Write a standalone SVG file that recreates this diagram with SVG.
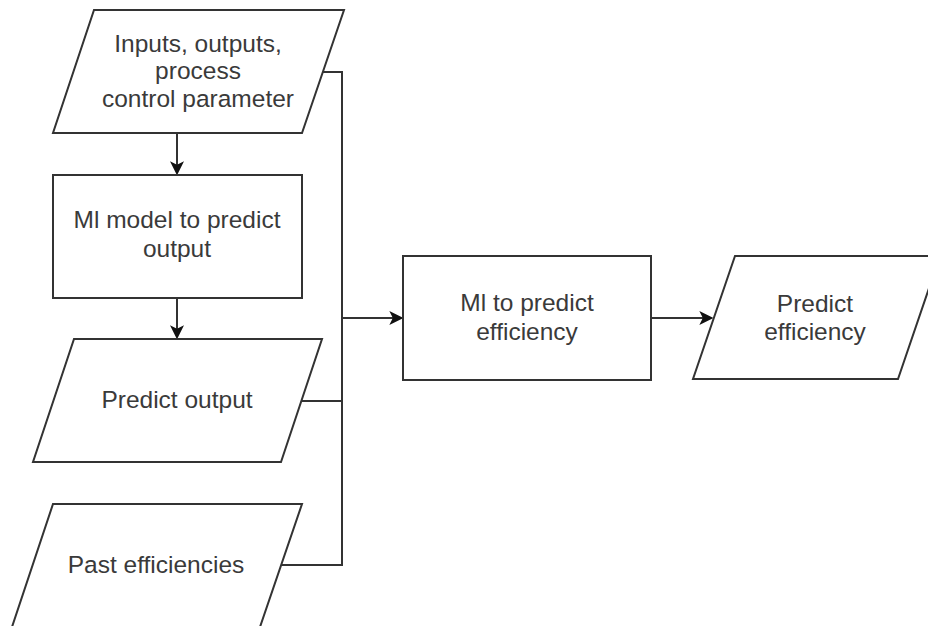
<svg xmlns="http://www.w3.org/2000/svg" width="928" height="626" viewBox="0 0 928 626">
<style>
.shape{fill:#ffffff;stroke:#333333;stroke-width:2;}
.edge{fill:none;stroke:#333333;stroke-width:2;}
.lbl{font-family:"Liberation Sans",Arial,sans-serif;font-size:24.5px;fill:#3a3a3a;text-anchor:middle;}
</style>
<defs>
<marker id="arr" viewBox="0 0 12 12" refX="10" refY="6" markerWidth="14" markerHeight="14" markerUnits="userSpaceOnUse" orient="auto">
<path d="M0,0 L12,6 L0,12 L3,6 z" fill="#111111"/>
</marker>
</defs>
<rect width="928" height="626" fill="#ffffff"/>
<g id="connectors">
<path class="edge" d="M177,133 V173" marker-end="url(#arr)"/>
<path class="edge" d="M177,298 V337" marker-end="url(#arr)"/>
<path class="edge" d="M321,72 H342 V565 H281"/>
<path class="edge" d="M301,401 H342"/>
<path class="edge" d="M342,318 H401" marker-end="url(#arr)"/>
<path class="edge" d="M651,318 H711" marker-end="url(#arr)"/>
</g>
<g id="inputs">
<polygon class="shape" points="94,10 344,10 302,133 53,133"/>
<text class="lbl" x="198" y="52">Inputs, outputs,</text>
<text class="lbl" x="198" y="79">process</text>
<text class="lbl" x="198" y="107">control parameter</text>
</g>
<g id="ml-model">
<rect class="shape" x="53" y="175" width="249" height="123"/>
<text class="lbl" x="177" y="228">Ml model to predict</text>
<text class="lbl" x="177" y="257">output</text>
</g>
<g id="predict-output">
<polygon class="shape" points="74,339 322,339 281,462 33,462"/>
<text class="lbl" x="177" y="408">Predict output</text>
</g>
<g id="past-efficiencies">
<polygon class="shape" points="53,504 302,504 260,627 12,627"/>
<text class="lbl" x="156" y="573">Past efficiencies</text>
</g>
<g id="ml-efficiency">
<rect class="shape" x="403" y="256" width="248" height="124"/>
<text class="lbl" x="527" y="311">Ml to predict</text>
<text class="lbl" x="527" y="340">efficiency</text>
</g>
<g id="predict-efficiency">
<polygon class="shape" points="735,256 940,256 898,379 693,379"/>
<text class="lbl" x="815" y="312">Predict</text>
<text class="lbl" x="815" y="340">efficiency</text>
</g>
</svg>
